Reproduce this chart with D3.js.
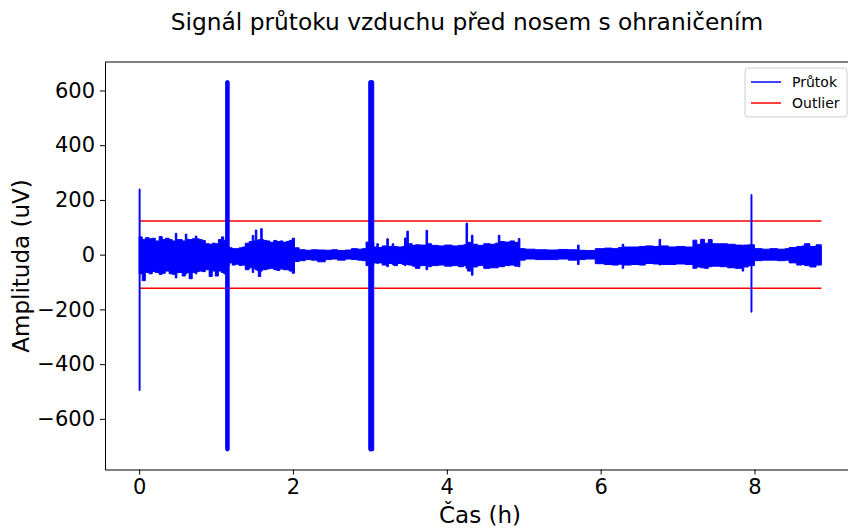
<html>
<head>
<meta charset="utf-8">
<script src="https://d3js.org/d3.v7.min.js"></script>
<style>
  body { margin: 0; background: #fff; }
  text { font-family: "DejaVu Sans", sans-serif; }
</style>
</head>
<body>
<svg></svg>
<script>
// envelope of the flow signal (hours, upper uV, lower uV)
var envT = [
  0.00, 0.04, 0.08, 0.13, 0.17, 0.21, 0.26, 0.30, 0.34, 0.39,
  0.43, 0.47, 0.49, 0.52, 0.56, 0.60, 0.62, 0.65, 0.69, 0.73,
  0.75, 0.78, 0.82, 0.86, 0.91, 0.95, 0.99, 1.03, 1.07, 1.10,
  1.13, 1.17, 1.21, 1.25, 1.30, 1.34, 1.38, 1.43, 1.47, 1.49,
  1.51, 1.53, 1.55, 1.58, 1.60, 1.62, 1.66, 1.70, 1.75, 1.79,
  1.83, 1.87, 1.91, 1.95, 1.99, 2.02, 2.08, 2.16, 2.24, 2.32,
  2.42, 2.50, 2.58, 2.68, 2.76, 2.84, 2.90, 2.95, 3.05, 3.09,
  3.11, 3.16, 3.22, 3.24, 3.29, 3.31, 3.36, 3.42, 3.45, 3.47,
  3.48, 3.50, 3.55, 3.59, 3.65, 3.73, 3.75, 3.80, 3.89, 3.97,
  4.07, 4.15, 4.22, 4.25, 4.27, 4.32, 4.34, 4.40, 4.48, 4.56,
  4.63, 4.67, 4.69, 4.75, 4.82, 4.88, 4.93, 4.95, 5.02, 5.15,
  5.30, 5.45, 5.58, 5.70, 5.72, 5.80, 5.93, 6.05, 6.15, 6.23,
  6.28, 6.30, 6.40, 6.50, 6.58, 6.68, 6.76, 6.78, 6.88, 6.98,
  7.10, 7.20, 7.25, 7.30, 7.35, 7.40, 7.45, 7.55, 7.65, 7.75,
  7.84, 7.86, 7.92, 8.00, 8.10, 8.20, 8.30, 8.40, 8.45, 8.55,
  8.62, 8.65, 8.72, 8.80, 8.87
];
var envHi = [
  65, 55, 62, 58, 60, 50, 66, 55, 60, 55,
  50, 78, 55, 55, 50, 75, 56, 55, 58, 68,
  58, 55, 52, 40, 38, 42, 40, 55, 65, 52,
  30, 25, 22, 22, 25, 28, 42, 48, 70, 50,
  90, 52, 55, 95, 55, 52, 50, 45, 52, 48,
  50, 45, 48, 52, 60, 25, 18, 16, 18, 17,
  16, 18, 15, 17, 22, 20, 22, 46, 28, 40,
  26, 32, 58, 30, 40, 30, 28, 30, 61, 34,
  86, 40, 34, 36, 35, 89, 40, 34, 32, 35,
  32, 34, 36, 115, 45, 71, 38, 34, 40, 38,
  42, 71, 48, 46, 50, 45, 59, 22, 20, 18,
  17, 19, 18, 35, 16, 15, 22, 24, 22, 26,
  38, 28, 28, 30, 32, 30, 56, 32, 28, 30,
  28, 53, 38, 56, 42, 55, 40, 40, 38, 35,
  34, 35, 36, 22, 20, 22, 20, 22, 26, 30,
  32, 40, 30, 36, 30
];
var envLo = [
  -70, -95, -65, -70, -62, -65, -72, -68, -60, -70,
  -72, -85, -66, -65, -78, -70, -66, -88, -65, -70,
  -62, -60, -62, -55, -80, -60, -78, -60, -65, -70,
  -40, -30, -38, -35, -40, -38, -55, -48, -65, -50,
  -55, -58, -80, -60, -55, -55, -52, -50, -55, -58,
  -52, -55, -55, -60, -68, -25, -22, -18, -20, -26,
  -18, -16, -20, -16, -18, -20, -22, -40, -30, -32,
  -30, -38, -44, -32, -36, -40, -32, -36, -40, -34,
  -36, -38, -42, -50, -40, -55, -44, -40, -38, -42,
  -40, -44, -40, -50, -60, -75, -45, -40, -50, -48,
  -48, -42, -44, -40, -38, -42, -44, -20, -16, -18,
  -18, -16, -20, -36, -18, -16, -33, -36, -38, -35,
  -50, -38, -36, -38, -32, -34, -38, -36, -36, -34,
  -36, -50, -45, -48, -50, -44, -42, -44, -48, -50,
  -60, -45, -40, -22, -20, -20, -22, -20, -30, -38,
  -36, -40, -45, -38, -35
];

// large artefacts (start hour, duration, max, min)
var spikeT   = [0.00, 1.125, 2.985, 7.955];
var spikeDur = [0.012, 0.045, 0.065, 0.012];
var spikeHi  = [241, 636, 636, 221];
var spikeLo  = [-498, -717, -717, -211];

var outlierLimit = 123;
var xTicks = [0, 2, 4, 6, 8];
var yTicks = [-600, -400, -200, 0, 200, 400, 600];

var width = 848, height = 528;
var svg = d3.select("svg").attr("width", width).attr("height", height);

var x = d3.scaleLinear().domain([-0.444, 9.32]).range([105, 856]);
var y = d3.scaleLinear().domain([-785, 704]).range([469.5, 62]);

var env = envT.map(function(t, i) { return {t: t, hi: envHi[i], lo: envLo[i]}; });

// outlier bounds
[outlierLimit, -outlierLimit].forEach(function(v) {
  svg.append("line")
    .attr("x1", x(0)).attr("x2", x(envT[envT.length - 1]))
    .attr("y1", y(v)).attr("y2", y(v))
    .attr("stroke", "#ff0000").attr("stroke-width", 1.5);
});

var area = d3.area()
  .curve(d3.curveStepAfter)
  .x(function(d) { return x(d.t); })
  .y0(function(d) { return y(d.lo); })
  .y1(function(d) { return y(d.hi); });

svg.append("path").datum(env)
  .attr("d", area)
  .attr("fill", "#0000ff")
  .attr("stroke", "#0000ff")
  .attr("stroke-width", 1);

svg.selectAll(".spike").data(spikeT).enter().append("rect")
  .attr("x", function(d) { return x(d); })
  .attr("width", function(d, i) { return x(d + spikeDur[i]) - x(d); })
  .attr("y", function(d, i) { return y(spikeHi[i]); })
  .attr("height", function(d, i) { return y(spikeLo[i]) - y(spikeHi[i]); })
  .attr("rx", 1.5)
  .attr("fill", "#0000ff")
  .attr("stroke", "#0000ff")
  .attr("stroke-width", 1);

// axes
var fmt = function(d) { return d < 0 ? "\u2212" + Math.abs(d) : d; };
var gx = svg.append("g")
  .attr("transform", "translate(0," + 469.5 + ")")
  .call(d3.axisBottom(x).tickValues(xTicks).tickSizeInner(5).tickSizeOuter(0).tickPadding(5).tickFormat(fmt));
var gy = svg.append("g")
  .attr("transform", "translate(" + 105 + ",0)")
  .call(d3.axisLeft(y).tickValues(yTicks).tickSizeInner(5).tickSizeOuter(0).tickPadding(5).tickFormat(fmt));
[gx, gy].forEach(function(g) {
  g.selectAll("text").attr("font-size", 21).attr("fill", "#000").attr("font-family", "DejaVu Sans");
  g.selectAll("line").attr("stroke", "#000");
  g.select(".domain").attr("stroke", "#000");
});
svg.append("line").attr("x1", 105).attr("x2", 856).attr("y1", 62).attr("y2", 62).attr("stroke", "#000");

svg.append("text").attr("x", 480).attr("y", 523).attr("text-anchor", "middle")
  .attr("font-size", 23).text("Čas (h)");
svg.append("text").attr("transform", "translate(29,266) rotate(-90)").attr("text-anchor", "middle")
  .attr("font-size", 23).text("Amplituda (uV)");
svg.append("text").attr("x", 467).attr("y", 30).attr("text-anchor", "middle")
  .attr("font-size", 23.3).text("Signál průtoku vzduchu před nosem s ohraničením");

// legend
var leg = svg.append("g").attr("transform", "translate(745,68)");
leg.append("rect").attr("width", 102).attr("height", 49).attr("rx", 3)
  .attr("fill", "#fff").attr("fill-opacity", 0.8).attr("stroke", "#cccccc");
var legNames = ["Průtok", "Outlier"];
var legColors = ["#0000ff", "#ff0000"];
legNames.forEach(function(n, i) {
  var yy = 14 + i * 21;
  leg.append("line").attr("x1", 6).attr("x2", 36).attr("y1", yy).attr("y2", yy)
    .attr("stroke", legColors[i]).attr("stroke-width", 1.5);
  leg.append("text").attr("x", 47).attr("y", yy + 5).attr("font-size", 14).text(n);
});
</script>
</body>
</html>
